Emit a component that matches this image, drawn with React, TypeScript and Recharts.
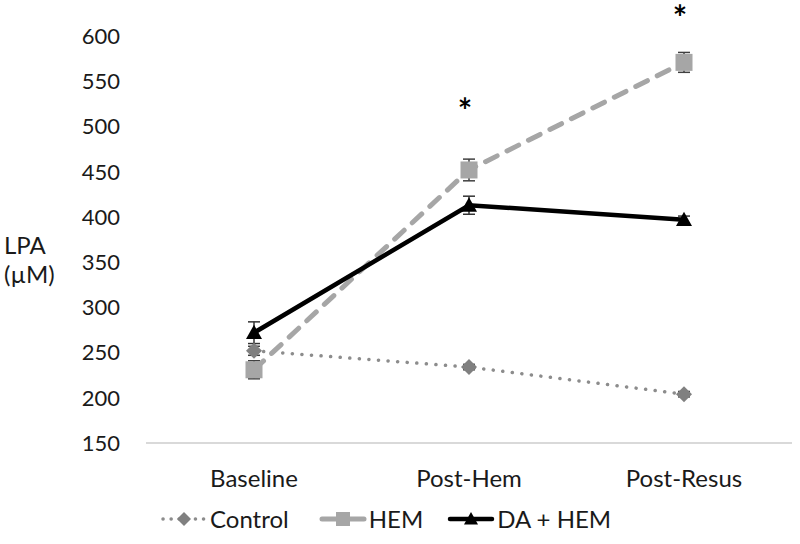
import {
  ComposedChart,
  ErrorBar,
  Legend,
  Line,
  Scatter,
  XAxis,
  YAxis,
} from "recharts";

const categories = ["Baseline", "Post-Hem", "Post-Resus"];
const control = [252, 234, 204];
const controlErr = [5, 3, 3];
const hem = [231, 452, 571];
const hemErr = [10, 12, 11];
const daHem = [272, 413, 397];
const daHemErr = [12, 10, 4];
// height (µM) at which the significance asterisk sits
const sig = [null, 526, 629];
const yTicks = [150, 200, 250, 300, 350, 400, 450, 500, 550, 600];

const data = categories.map((name, i) => ({
  name,
  control: control[i],
  controlErr: controlErr[i],
  hem: hem[i],
  hemErr: hemErr[i],
  daHem: daHem[i],
  daHemErr: daHemErr[i],
  sig: sig[i],
}));

const FONT = "Lato, 'Open Sans', sans-serif";
const TEXT = "#1a1a1a";
const FS = 22; // numbers
const FL = 24; // words

const Diamond = ({ cx, cy, size = 8, fill = "#808080" }: any) => (
  <path
    d={`M${cx},${cy - size}L${cx + size},${cy}L${cx},${cy + size}L${cx - size},${cy}Z`}
    fill={fill}
  />
);
const Square = ({ cx, cy, size = 8.5, fill = "#a6a6a6" }: any) => (
  <rect x={cx - size} y={cy - size} width={size * 2} height={size * 2} fill={fill} />
);
const Triangle = ({ cx, cy, size = 8, fill = "#000" }: any) => (
  <path
    d={`M${cx},${cy - size}L${cx + size},${cy + size * 0.8}L${cx - size},${cy + size * 0.8}Z`}
    fill={fill}
  />
);

const legendItems = [
  { label: "Control", stroke: "#8c8c8c", width: 3.5, dash: "0.1 8", marker: Diamond, gap: 0 },
  { label: "HEM", stroke: "#a6a6a6", width: 5, dash: undefined, marker: Square, gap: 30 },
  { label: "DA + HEM", stroke: "#000", width: 4.5, dash: undefined, marker: Triangle, gap: 24 },
];

const renderLegend = () => (
  <div style={{ display: "flex", alignItems: "center", paddingLeft: 160, fontFamily: FONT, fontSize: FL, color: TEXT }}>
    {legendItems.map((it) => {
      const M = it.marker;
      return (
        <div key={it.label} style={{ display: "flex", alignItems: "center", marginLeft: it.gap }}>
          <svg width={48} height={22} style={{ marginRight: 2 }}>
            <line x1={3} y1={11} x2={45} y2={11} stroke={it.stroke} strokeWidth={it.width} strokeDasharray={it.dash} strokeLinecap="round" />
            <M cx={24} cy={11} size={7} />
          </svg>
          <span>{it.label}</span>
        </div>
      );
    })}
  </div>
);

const YLabel = () => (
  <text fontFamily={FONT} fontSize={FL} fill={TEXT}>
    <tspan x={4} y={254}>LPA</tspan>
    <tspan x={4} y={283}>(µM)</tspan>
  </text>
);

export default function App() {
  return (
    <div style={{ position: "absolute", left: 0, top: 0, background: "#fff" }}>
      <ComposedChart
        width={800}
        height={544}
        data={data}
        margin={{ top: 0, right: 8, left: 0, bottom: 0 }}
      >
        <XAxis
          dataKey="name"
          height={101}
          padding={{ left: 108, right: 108 }}
          tickLine={false}
          axisLine={{ stroke: "#d9d9d9", strokeWidth: 2 }}
          tickMargin={21}
          tick={{ fontFamily: FONT, fontSize: FL, fill: TEXT }}
        />
        <YAxis
          width={146}
          domain={[150, 640]}
          ticks={yTicks}
          axisLine={false}
          tickLine={false}
          tickMargin={20}
          tick={{ fontFamily: FONT, fontSize: FS, fill: TEXT }}
          label={{ content: () => <YLabel /> }}
        />
        <Legend
          layout="horizontal"
          verticalAlign="middle"
          align="center"
          wrapperStyle={{ top: 504, left: 0, width: 800 }}
          content={renderLegend}
        />
        <Line
          dataKey="control"
          stroke="#8c8c8c"
          strokeWidth={3.5}
          strokeDasharray="0.1 9.5"
          strokeLinecap="round"
          isAnimationActive={false}
          dot={(p: any) => <Diamond key={`c${p.index}`} cx={p.cx} cy={p.cy} />}
          activeDot={false}
        >
          <ErrorBar dataKey="controlErr" direction="y" width={6} stroke="#404040" strokeWidth={1.5} />
        </Line>
        <Line
          dataKey="hem"
          stroke="#a6a6a6"
          strokeWidth={5}
          strokeDasharray="13 11"
          strokeLinecap="round"
          isAnimationActive={false}
          dot={(p: any) => <Square key={`h${p.index}`} cx={p.cx} cy={p.cy} />}
          activeDot={false}
        >
          <ErrorBar dataKey="hemErr" direction="y" width={6} stroke="#404040" strokeWidth={1.5} />
        </Line>
        <Line
          dataKey="daHem"
          stroke="#000"
          strokeWidth={4.5}
          isAnimationActive={false}
          dot={(p: any) => <Triangle key={`t${p.index}`} cx={p.cx} cy={p.cy} />}
          activeDot={false}
        >
          <ErrorBar dataKey="daHemErr" direction="y" width={6} stroke="#333" strokeWidth={1.5} />
        </Line>
        <Scatter
          dataKey="sig"
          fill="#000"
          isAnimationActive={false}
          shape={(p: any) =>
            p.cy == null || Number.isNaN(p.cy) || p.payload?.sig == null ? (
              <g />
            ) : (
              <text x={p.cx - 4} y={p.cy + 20} textAnchor="middle" fontFamily={FONT} fontWeight="bold" fontSize={34} fill="#000">
                *
              </text>
            )
          }
        />
      </ComposedChart>
    </div>
  );
}
